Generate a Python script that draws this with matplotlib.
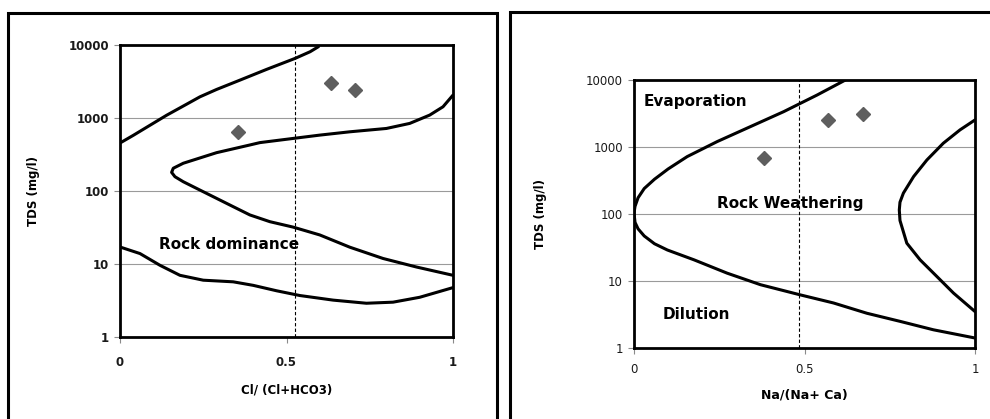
import matplotlib
matplotlib.use('Agg')
import matplotlib.pyplot as plt
from matplotlib.patches import Rectangle
from matplotlib.ticker import FixedLocator, FixedFormatter

# left panel: Cl/(Cl+HCO3) vs TDS
cl_upper_x = [0, 0.04, 0.09, 0.14, 0.20, 0.24, 0.29, 0.36, 0.44, 0.526, 0.571, 0.596]
cl_upper_y = [454, 579, 795, 1091, 1545, 1950, 2460, 3300, 4630, 6560, 8090, 9490]
cl_mid_x = [1.0, 0.97, 0.93, 0.87, 0.80, 0.69, 0.60, 0.52, 0.42, 0.39, 0.29, 0.19, 0.16,
            0.155, 0.165, 0.19, 0.24, 0.34, 0.39, 0.45, 0.52, 0.60, 0.69, 0.79, 0.89, 1.0]
cl_mid_y = [2060, 1425, 1096, 843, 719, 647, 583, 525, 460, 427, 335, 240, 205,
            180, 157, 134, 103, 61, 47, 38, 32, 25, 17, 11.9, 9.1, 7.0]
cl_low_x = [0, 0.06, 0.12, 0.18, 0.25, 0.34, 0.40, 0.47, 0.54, 0.64, 0.74, 0.82, 0.90, 1.0]
cl_low_y = [17.1, 13.9, 9.6, 7.0, 6.0, 5.7, 5.1, 4.3, 3.7, 3.2, 2.9, 3.0, 3.5, 4.75]
cl_pts_x = [0.355, 0.633, 0.705]
cl_pts_y = [648, 2980, 2415]
cl_dash = 0.525

# right panel: Na/(Na+Ca) vs TDS
na_left_x = [0.62, 0.537, 0.439, 0.341, 0.244, 0.156, 0.10, 0.06, 0.03, 0.012, 0.003, 0.0, 0.003,
             0.012, 0.03, 0.06, 0.098, 0.176, 0.273, 0.371, 0.488, 0.585, 0.683, 0.78, 0.878, 1.0]
na_left_y = [10000, 5970, 3370, 2010, 1205, 719, 470, 330, 240, 175, 130, 103, 75,
             60, 47, 36, 29, 20.7, 13.1, 8.8, 6.2, 4.7, 3.3, 2.5, 1.87, 1.41]
na_right_x = [1.0, 0.956, 0.907, 0.859, 0.82, 0.79, 0.780, 0.778, 0.780, 0.80, 0.839, 0.888, 0.937, 1.0]
na_right_y = [2535, 1800, 1138, 641, 362, 205, 150, 115, 80, 36.7, 20.7, 11.7, 6.6, 3.5]
na_pts_x = [0.38, 0.569, 0.671]
na_pts_y = [680, 2535, 3110]
na_dash = 0.484

yticks = [1, 10, 100, 1000, 10000]
ytick_labels = ['1', '10', '100', '1000', '10000']
xticks = [0, 0.5, 1]
xtick_labels = ['0', '0.5', '1']

fig = plt.figure(figsize=(9.9, 4.19), dpi=100)

# outer frames
fig.add_artist(Rectangle((8 / 990, -0.1), 489 / 990, 1.1 - 13 / 419, transform=fig.transFigure,
                         fill=False, edgecolor='black', linewidth=2.2))
fig.add_artist(Rectangle((510 / 990, -0.1), 490 / 990, 1.1 - 12 / 419, transform=fig.transFigure,
                         fill=False, edgecolor='black', linewidth=2.2))


def setup(ax, bold_ticks, xpad):
    ax.set_yscale('log')
    ax.set_ylim(1, 10000)
    ax.set_xlim(0, 1)
    ax.yaxis.set_major_locator(FixedLocator(yticks))
    ax.yaxis.set_major_formatter(FixedFormatter(ytick_labels))
    ax.yaxis.set_minor_locator(FixedLocator([]))
    ax.set_xticks(xticks)
    ax.set_xticklabels(xtick_labels)
    ax.grid(axis='y', color='#9a9a9a', linewidth=0.8)
    ax.set_axisbelow(True)
    for s in ax.spines.values():
        s.set_linewidth(2.0)
    ax.tick_params(axis='both', length=4, width=0.8, color='#8a8a8a', labelsize=8.5, pad=4)
    ax.tick_params(axis='x', pad=xpad)
    w = 'bold' if bold_ticks else 'normal'
    for t in ax.get_xticklabels() + ax.get_yticklabels():
        t.set_fontweight(w)
        t.set_color('#1a1a1a')


lw = 2.2
ln = dict(color='black', lw=lw, solid_joinstyle='round', solid_capstyle='round')
mk = dict(marker='D', linestyle='none', color='#5e5e5e', markersize=7.5, zorder=5)

ax1 = fig.add_axes([120 / 990, (419 - 337) / 419, 333 / 990, 292 / 419])
setup(ax1, True, 10)
ax1.plot(cl_upper_x, cl_upper_y, **ln)
ax1.plot(cl_mid_x, cl_mid_y, **ln)
ax1.plot(cl_low_x, cl_low_y, **ln)
ax1.axvline(cl_dash, color='black', lw=0.8, linestyle=(0, (3, 2)))
ax1.plot(cl_pts_x, cl_pts_y, **mk)
ax1.text(0.117, 18.5, 'Rock dominance', fontsize=11, fontweight='bold', va='center', ha='left')
ax1.set_xlabel('Cl/ (Cl+HCO3)', fontsize=8.5, fontweight='bold', labelpad=10)
ax1.set_ylabel('TDS (mg/l)', fontsize=8.5, fontweight='bold', labelpad=20)

ax2 = fig.add_axes([634 / 990, (419 - 348) / 419, 341 / 990, 268 / 419])
setup(ax2, False, 7)
ax2.plot(na_left_x, na_left_y, **ln)
ax2.plot(na_right_x, na_right_y, **ln)
ax2.axvline(na_dash, color='black', lw=0.8, linestyle=(0, (3, 2)))
ax2.plot(na_pts_x, na_pts_y, **mk)
ax2.text(0.029, 4750, 'Evaporation', fontsize=11, fontweight='bold', va='center', ha='left')
ax2.text(0.242, 145, 'Rock Weathering', fontsize=11, fontweight='bold', va='center', ha='left')
ax2.text(0.085, 3.14, 'Dilution', fontsize=11, fontweight='bold', va='center', ha='left')
ax2.set_xlabel('Na/(Na+ Ca)', fontsize=9, fontweight='bold', labelpad=9)
ax2.set_ylabel('TDS (mg/l)', fontsize=8.5, fontweight='bold', labelpad=28)

fig.savefig('out.png', dpi=100)
